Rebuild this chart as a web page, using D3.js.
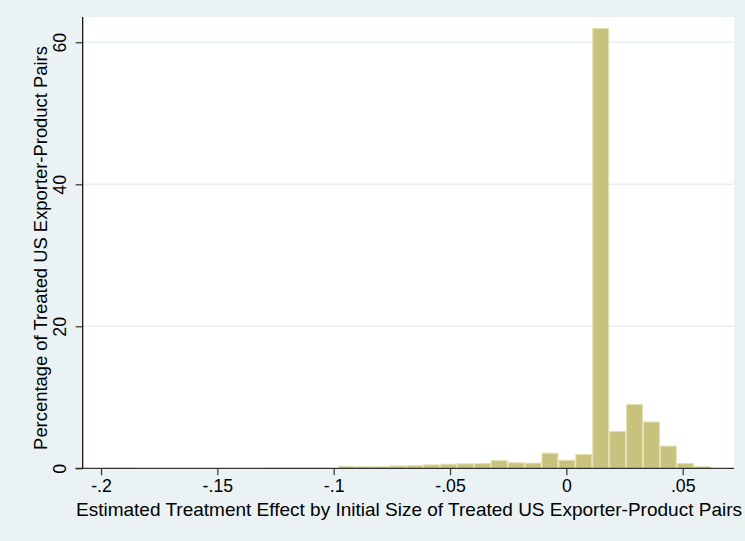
<!DOCTYPE html>
<html>
<head>
<meta charset="utf-8">
<script src="https://cdn.jsdelivr.net/npm/d3@7"></script>
<style>
  html, body { margin: 0; padding: 0; background: #eaf2f3; }
  svg { display: block; }
  text { font-family: "Liberation Sans", Arial, Helvetica, sans-serif; fill: #000; }
</style>
</head>
<body>
<svg id="chart" width="745" height="541"></svg>
<script>
// Histogram bins: start of the first bin, common bin width, and percent per bin
const binStart = -0.1997;
const binWidth = 0.00727;
const percents = [
  0.10, 0.10, 0.05, 0.05, 0.05, 0.05, 0.05, 0.05, 0.05, 0.05,
  0.10, 0.10, 0.10, 0.05, 0.35, 0.30, 0.30, 0.40, 0.45, 0.55,
  0.65, 0.70, 0.75, 1.15, 0.85, 0.80, 2.20, 1.20, 2.00, 62.0,
  5.25, 9.05, 6.60, 3.20, 0.75, 0.30, 0.05
];
const xTicks = [-0.2, -0.15, -0.1, -0.05, 0, 0.05];
const xTickLabels = ["-.2", "-.15", "-.1", "-.05", "0", ".05"];
const yTicks = [0, 20, 40, 60];
const xTitle = "Estimated Treatment Effect by Initial Size of Treated US Exporter-Product Pairs";
const yTitle = "Percentage of Treated US Exporter-Product Pairs";

const bins = percents.map((p, i) => ({
  x0: binStart + i * binWidth,
  x1: binStart + (i + 1) * binWidth,
  pct: p
}));

const svg = d3.select("#chart");
const W = 745, H = 541;
const plot = { left: 82.7, right: 734, top: 17, bottom: 468.3 };
const tickFont = "17.7px";

svg.append("rect").attr("width", W).attr("height", H).attr("fill", "#eaf2f3");
svg.append("rect")
  .attr("x", plot.left).attr("y", plot.top)
  .attr("width", plot.right - plot.left).attr("height", plot.bottom - plot.top)
  .attr("fill", "#ffffff");

const x = d3.scaleLinear().domain([-0.20787, 0.07205]).range([plot.left, plot.right]);
const y = d3.scaleLinear().domain([0, 63.56]).range([plot.bottom, plot.top]);

// horizontal grid lines
svg.append("g").selectAll("line")
  .data(yTicks.filter(t => t > 0))
  .join("line")
  .attr("x1", plot.left).attr("x2", plot.right)
  .attr("y1", d => y(d)).attr("y2", d => y(d))
  .attr("stroke", "#e6eef1").attr("stroke-width", 1.5);

// bars
svg.append("g").selectAll("rect")
  .data(bins)
  .join("rect")
  .attr("x", d => x(d.x0) + 0.5)
  .attr("width", d => x(d.x1) - x(d.x0) - 1)
  .attr("y", d => y(d.pct) + 0.5)
  .attr("height", d => Math.max(0, y(0) - y(d.pct) - 0.5))
  .attr("fill", "#c9c27e")
  .attr("stroke", "#e4e0b0")
  .attr("stroke-width", 1);

// x axis
const xAxis = d3.axisBottom(x)
  .tickValues(xTicks)
  .tickFormat((d, i) => xTickLabels[i])
  .tickSize(7)
  .tickPadding(4)
  .tickSizeOuter(0);
const gx = svg.append("g").attr("transform", `translate(0,${plot.bottom})`).call(xAxis);
gx.select(".domain").remove();
gx.append("line")
  .attr("x1", 75.5).attr("x2", plot.right)
  .attr("y1", 0).attr("y2", 0)
  .attr("stroke", "#333").attr("stroke-width", 1.2);
gx.selectAll(".tick line").attr("stroke", "#333").attr("stroke-width", 1.2);
gx.selectAll(".tick text")
  .style("font-size", tickFont)
  .style("font-family", "Liberation Sans, Arial, sans-serif")
  .attr("fill", "#000");

// y axis
const yAxis = d3.axisLeft(y)
  .tickValues(yTicks)
  .tickFormat(d3.format("d"))
  .tickSize(7)
  .tickSizeOuter(0);
const gy = svg.append("g").attr("transform", `translate(${plot.left},0)`).call(yAxis);
gy.select(".domain").remove();
gy.append("line")
  .attr("x1", 0).attr("x2", 0)
  .attr("y1", plot.top).attr("y2", plot.bottom)
  .attr("stroke", "#000").attr("stroke-width", 1.2);
gy.selectAll(".tick line").attr("stroke", "#333").attr("stroke-width", 1.2);
gy.selectAll(".tick text")
  .attr("x", null).attr("dy", null)
  .attr("transform", "translate(-17,0) rotate(-90)")
  .attr("text-anchor", "middle")
  .style("font-size", tickFont)
  .style("font-family", "Liberation Sans, Arial, sans-serif")
  .attr("fill", "#000");

// axis titles
svg.append("text")
  .attr("x", (76 + 742) / 2).attr("y", 516)
  .attr("text-anchor", "middle")
  .style("font-size", "19px")
  .text(xTitle);

svg.append("text")
  .attr("transform", `translate(47,${(35 + 461) / 2}) rotate(-90)`)
  .attr("text-anchor", "middle")
  .style("font-size", "18.4px")
  .text(yTitle);
</script>
</body>
</html>
